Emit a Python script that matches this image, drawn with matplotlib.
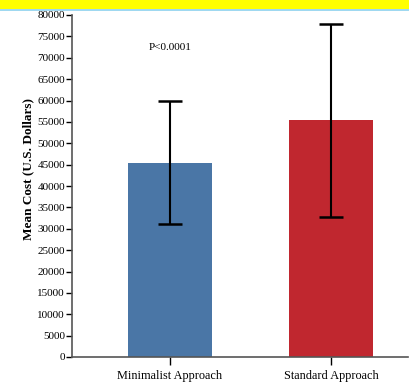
import numpy as np
import matplotlib
matplotlib.use("Agg")
import matplotlib.pyplot as plt
from matplotlib.patches import Rectangle

groups = ["Minimalist Approach", "Standard Approach"]
mean_cost = [45400, 55400]
err_low = [31100, 32700]
err_high = [59900, 77900]
bar_colors = ["#4a76a6", "#c0272f"]
y_ticks = list(range(0, 80001, 5000))

plt.rcParams['font.family'] = ['Liberation Serif', 'DejaVu Serif']

fig = plt.figure(figsize=(4.1, 3.84), dpi=100)
# yellow banner strip along the top edge
fig.patches.append(Rectangle((0, 1 - 9/384), 1, 9/384, transform=fig.transFigure,
                             facecolor="#ffff00", edgecolor="none"))
fig.patches.append(Rectangle((0, 1 - 11/384), 1, 2/384, transform=fig.transFigure,
                             facecolor="#9fd8f0", edgecolor="none"))

ax = fig.add_axes([72/410, 1 - 357/384, 336/410, 342/384])

x = np.arange(len(groups))
mean_cost = np.array(mean_cost)
yerr = np.array([mean_cost - np.array(err_low), np.array(err_high) - mean_cost])

ax.bar(x, mean_cost, width=0.52, color=bar_colors, zorder=1)
ax.errorbar(x, mean_cost, yerr=yerr, fmt="none", ecolor="black",
            elinewidth=1.5, capsize=8.5, capthick=1.8, zorder=2)

ax.set_xlim(-0.609, 1.478)
ax.set_ylim(0, 80000)
ax.set_yticks(y_ticks)
ax.set_yticklabels([str(v) for v in y_ticks], fontsize=8)
ax.set_xticks(x)
ax.set_xticklabels(groups, fontsize=8.8)
ax.tick_params(axis="y", direction="out", length=4, width=1, pad=1)
ax.tick_params(axis="x", direction="out", length=6, width=1, pad=3)

for side in ["top", "right"]:
    ax.spines[side].set_visible(False)
ax.spines["left"].set_color("#555555")
ax.spines["bottom"].set_color("#555555")
ax.spines["left"].set_linewidth(1.2)
ax.spines["bottom"].set_linewidth(1.2)

ax.set_ylabel("Mean Cost (U.S. Dollars)", fontsize=9.5, fontweight="bold")
ax.yaxis.set_label_coords(-0.112, 0.55)
ax.text(0.0, 72500, "P<0.0001", fontsize=8, ha="center", va="center")

fig.savefig("out.png", dpi=100)
